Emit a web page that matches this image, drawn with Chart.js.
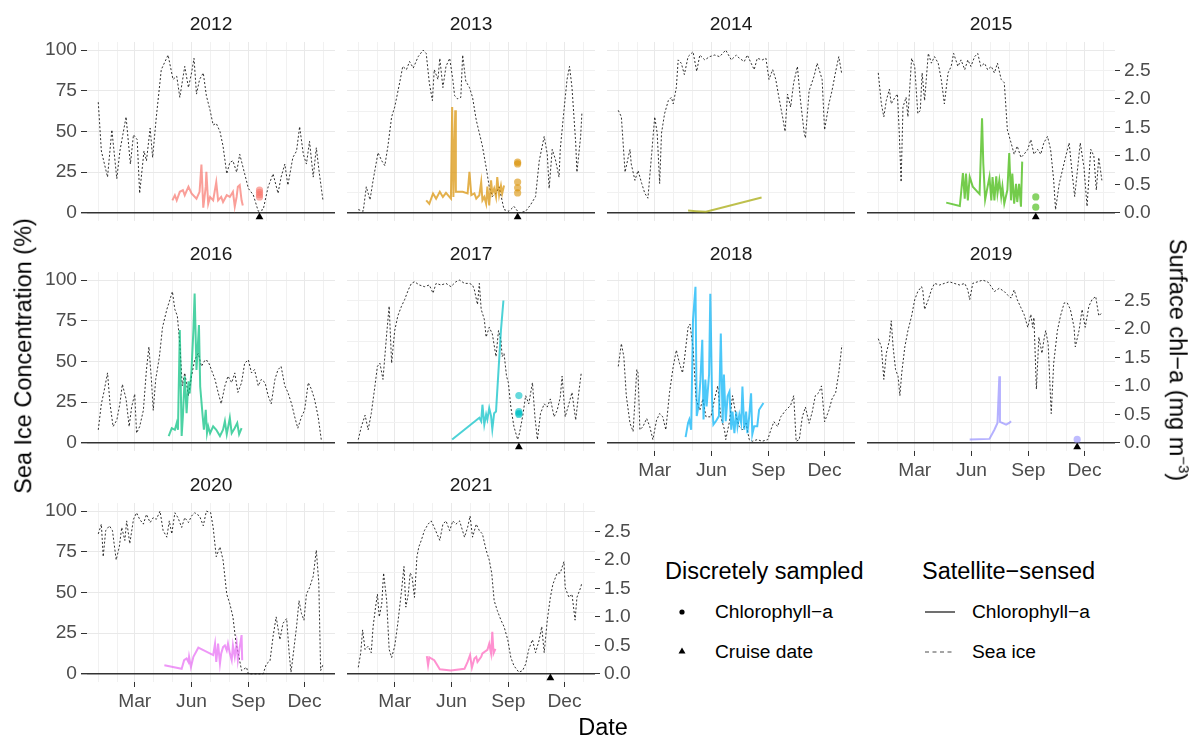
<!DOCTYPE html>
<html>
<head>
<meta charset="utf-8">
<script src="https://cdn.jsdelivr.net/npm/chart.js@4.4.0/dist/chart.umd.min.js"></script>
<style>
  body { margin: 0; background: #fff; font-family: 'Liberation Sans', Arial, sans-serif; }
  #page { position: relative; width: 1193px; height: 737px; overflow: hidden; background: #fff; }
  #page canvas { position: absolute; }
  .txt { position: absolute; white-space: nowrap; line-height: 1; }
  .strip { font-size: 19.2px; color: #1a1a1a; transform: translate(-50%, -50%); }
  .axtitle { font-size: 23.5px; color: #000; }
  .legtitle { font-size: 23.5px; color: #000; transform: translateY(-50%); }
  .legitem { font-size: 19.2px; color: #000; transform: translateY(-50%); }
  svg.key { position: absolute; overflow: visible; }
</style>
</head>
<body>
<div id="page"></div>
<script>
// ---- data (day of year, Jan 1 = 0) ----
const years = [2012, 2013, 2014, 2015, 2016, 2017, 2018, 2019, 2020, 2021];
const yearColors = ['#F8766D', '#D89000', '#A3A500', '#39B600', '#00BF7D',
                    '#00BFC4', '#00B0F6', '#9590FF', '#E76BF3', '#FF62BC'];

const monthStarts = [0, 31, 59, 90, 120, 151, 181, 212, 243, 273, 304, 334, 365];
const monthTickDays = [59, 151, 243, 334];
const monthTickNames = ['Mar', 'Jun', 'Sep', 'Dec'];
const iceGrid = [0, 12.5, 25, 37.5, 50, 62.5, 75, 87.5, 100];
const chlTicks = [0, 0.5, 1, 1.5, 2, 2.5];
const chlScale = 35; // % per mg m-3 on the secondary axis

// sea ice concentration (%)
const ice2012 = [[0,68],[5,38],[15,22],[22,51],[30,21],[35,38],[45,59],[52,30],[57,48],[63,45],[67,12],[74,38],[78,32],[84,52],[88,34],[94,59],[102,88],[113,97],[121,82],[127,84],[132,71],[140,90],[146,77],[151,86],[155,95],[159,73],[164,82],[170,86],[175,72],[181,63],[186,54],[191,55],[197,50],[202,41],[208,24],[213,31],[218,32],[224,25],[229,36],[237,24],[243,15],[251,11],[259,1],[267,2],[275,16],[283,24],[291,12],[296,22],[302,30],[307,17],[315,34],[321,38],[326,53],[332,36],[337,30],[342,44],[348,22],[353,40],[358,24],[364,7]];
const ice2013 = [[0,2],[8,1],[13,16],[19,8],[24,20],[32,37],[38,32],[43,29],[48,41],[54,59],[59,65],[67,80],[72,90],[78,88],[83,93],[89,89],[97,96],[105,100],[110,98],[115,80],[120,69],[123,88],[129,82],[132,95],[137,77],[142,90],[148,95],[153,82],[156,72],[161,70],[166,71],[169,97],[174,81],[180,77],[185,71],[191,57],[196,49],[201,41],[207,28],[212,16],[217,10],[223,12],[228,16],[236,2],[244,1],[252,4],[260,0],[271,1],[279,5],[287,10],[293,32],[301,47],[306,36],[309,15],[314,39],[319,33],[325,22],[327,39],[333,63],[338,82],[342,90],[346,77],[352,43],[354,25],[360,47],[362,61]];
const ice2014 = [[0,63],[5,59],[11,25],[16,34],[19,39],[21,30],[27,20],[32,26],[38,18],[43,12],[48,9],[54,36],[59,59],[63,49],[67,18],[70,49],[75,61],[81,69],[86,71],[89,67],[94,77],[97,94],[102,92],[107,85],[113,96],[121,99],[127,87],[132,97],[140,94],[148,96],[156,97],[164,96],[174,100],[183,94],[191,97],[196,95],[204,93],[209,97],[215,92],[220,88],[225,95],[233,94],[239,95],[244,82],[250,88],[255,82],[260,71],[266,59],[270,50],[274,73],[279,65],[284,80],[290,90],[295,69],[301,49],[303,46],[309,75],[317,84],[322,92],[330,82],[334,51],[341,67],[346,75],[352,87],[357,96],[362,85]];
const ice2015 = [[0,86],[5,67],[9,59],[13,69],[18,76],[21,67],[27,71],[31,73],[34,49],[37,19],[40,65],[45,71],[48,59],[54,95],[59,90],[64,61],[68,63],[71,86],[75,69],[81,98],[86,92],[91,96],[97,92],[102,82],[107,67],[113,86],[118,90],[122,98],[129,90],[134,94],[140,88],[145,94],[150,90],[156,96],[161,98],[166,90],[172,92],[177,88],[183,90],[188,86],[193,92],[199,82],[204,80],[207,63],[209,51],[215,43],[220,36],[225,41],[231,34],[236,36],[242,39],[247,45],[252,36],[258,39],[263,36],[268,43],[274,47],[279,39],[284,20],[287,2],[293,18],[298,26],[303,34],[309,43],[314,24],[318,10],[324,32],[327,43],[333,28],[338,4],[344,39],[349,35],[353,14],[357,34],[362,20]];
const ice2016 = [[0,8],[5,24],[9,31],[15,43],[19,24],[24,10],[30,14],[35,24],[39,36],[45,27],[50,10],[54,22],[59,30],[62,6],[67,10],[73,20],[78,45],[82,59],[86,39],[89,20],[93,39],[99,53],[104,71],[111,82],[116,88],[120,93],[124,82],[128,78],[132,61],[136,35],[140,43],[146,29],[151,41],[156,51],[162,55],[167,47],[173,51],[178,50],[183,45],[189,39],[194,31],[199,24],[205,35],[210,41],[216,37],[221,43],[226,31],[232,37],[237,49],[243,51],[248,43],[253,45],[259,35],[264,39],[270,37],[275,29],[280,24],[286,39],[291,45],[296,47],[302,35],[307,31],[313,24],[318,16],[323,9],[329,16],[334,20],[340,37],[345,33],[350,27],[356,16],[361,2]];
const ice2017 = [[0,2],[5,10],[11,17],[16,8],[21,18],[27,35],[31,47],[35,49],[40,39],[46,67],[50,84],[54,49],[59,69],[64,78],[70,84],[75,88],[81,94],[86,98],[91,99],[99,97],[107,96],[115,97],[121,92],[126,98],[134,97],[142,98],[150,96],[158,99],[164,100],[172,98],[180,98],[185,97],[188,94],[193,85],[196,98],[199,82],[204,76],[207,65],[212,71],[217,67],[223,53],[227,69],[231,63],[233,53],[236,55],[240,41],[243,37],[247,22],[252,10],[258,2],[261,6],[266,16],[271,29],[276,24],[282,37],[286,16],[290,2],[295,18],[301,24],[306,22],[311,27],[317,16],[322,20],[327,28],[330,41],[335,16],[341,24],[346,31],[352,14],[357,31],[361,43]];
const ice2018 = [[0,47],[5,61],[9,53],[13,29],[19,12],[24,7],[30,45],[32,43],[35,8],[40,10],[46,15],[51,10],[56,2],[62,14],[67,18],[72,16],[77,8],[83,31],[89,47],[94,57],[99,49],[104,43],[107,51],[113,71],[116,73],[121,59],[126,27],[132,20],[137,27],[142,16],[150,16],[156,27],[161,35],[166,16],[172,8],[174,2],[180,13],[185,29],[191,16],[196,10],[201,8],[207,12],[212,2],[217,1],[225,2],[233,1],[242,2],[247,8],[252,13],[258,10],[263,16],[271,20],[279,23],[284,29],[288,1],[293,2],[298,16],[303,22],[309,12],[314,19],[319,29],[325,31],[329,35],[334,13],[341,20],[346,27],[352,31],[357,43],[362,60]];
const ice2019 = [[0,64],[5,59],[9,39],[13,55],[18,63],[21,75],[24,59],[28,45],[32,41],[35,29],[38,43],[43,59],[48,69],[54,78],[59,88],[64,93],[70,96],[72,94],[75,82],[81,88],[86,94],[91,98],[99,97],[107,98],[115,99],[123,98],[132,97],[140,98],[145,94],[148,88],[153,98],[161,99],[169,100],[177,99],[183,96],[188,93],[196,95],[204,93],[209,91],[215,89],[220,94],[225,88],[231,83],[236,79],[242,71],[247,79],[250,71],[252,77],[256,33],[260,65],[265,55],[268,63],[271,69],[275,61],[280,18],[284,49],[290,69],[295,78],[301,86],[306,86],[311,82],[317,71],[319,59],[325,69],[330,82],[335,71],[341,84],[346,88],[352,90],[357,78],[362,80]];
const ice2020 = [[0,86],[5,92],[8,72],[12,88],[18,91],[23,88],[29,70],[34,78],[38,90],[43,82],[46,94],[51,80],[57,95],[62,99],[67,95],[73,92],[78,98],[84,93],[89,96],[94,95],[100,100],[105,88],[111,84],[115,94],[119,86],[124,99],[129,96],[135,90],[140,96],[146,93],[151,97],[156,99],[164,97],[170,91],[175,100],[182,99],[186,90],[191,72],[197,78],[202,70],[208,49],[213,43],[218,35],[223,19],[228,10],[232,2],[240,4],[243,0],[256,0],[267,0],[272,6],[278,8],[283,23],[288,35],[294,21],[299,31],[305,34],[309,13],[312,1],[315,10],[321,29],[325,45],[329,37],[333,33],[337,49],[342,53],[348,60],[353,76],[357,56],[360,2],[364,6]];
const ice2021 = [[0,4],[4,13],[7,27],[11,15],[16,17],[21,13],[24,29],[28,41],[31,49],[34,35],[38,43],[41,62],[46,45],[50,15],[54,10],[59,17],[64,31],[70,51],[74,66],[77,41],[81,49],[84,62],[87,60],[91,47],[95,72],[98,78],[102,82],[107,88],[113,92],[118,94],[123,90],[132,82],[137,92],[142,94],[148,88],[153,94],[158,92],[164,94],[172,84],[177,90],[181,97],[185,84],[191,92],[196,88],[201,86],[207,76],[212,70],[216,62],[220,45],[225,39],[231,33],[236,29],[242,21],[247,10],[252,5],[260,1],[266,2],[271,6],[276,15],[282,21],[287,13],[293,21],[297,29],[301,13],[306,33],[311,47],[315,55],[322,62],[327,62],[333,69],[335,53],[341,47],[346,49],[351,33],[354,47],[360,53],[362,56]];

// satellite chlorophyll-a (mg m-3)
const chl2012 = [[120,0.22],[124,0.31],[127,0.22],[132,0.37],[137,0.40],[140,0.31],[146,0.46],[151,0.34],[159,0.25],[164,0.37],[167,0.85],[170,0.09],[174,0.46],[175,0.72],[178,0.16],[181,0.28],[186,0.22],[191,0.54],[194,0.22],[199,0.28],[202,0.19],[208,0.31],[213,0.28],[218,0.37],[221,0.11],[224,0.28],[226,0.46],[229,0.49],[232,0.22],[234,0.13]];
const chl2013 = [[110,0.22],[115,0.16],[121,0.34],[126,0.25],[132,0.37],[137,0.28],[142,0.35],[150,0.25],[152,1.86],[154,0.28],[157,1.80],[158,0.37],[169,0.37],[177,0.34],[180,0.72],[183,0.31],[188,0.34],[191,0.25],[196,0.31],[199,0.54],[201,0.22],[204,0.28],[207,0.16],[209,0.46],[212,0.13],[215,0.57],[217,0.34],[220,0.43],[223,0.28],[225,0.63],[228,0.31],[231,0.48],[233,0.34],[236,0.48]];
const chl2014 = [[113,0.04],[126,0.03],[142,0.02],[232,0.27]];
const chl2015 = [[110,0.18],[132,0.12],[134,0.34],[137,0.70],[140,0.25],[142,0.69],[145,0.22],[148,0.63],[153,0.46],[164,0.33],[168,1.66],[170,0.87],[173,0.23],[177,0.46],[180,0.63],[183,0.22],[185,0.63],[188,0.22],[191,0.64],[193,0.34],[196,0.57],[199,0.28],[201,0.46],[204,0.16],[209,0.40],[212,1.05],[215,0.22],[217,0.69],[220,0.16],[223,0.51],[225,0.19],[228,0.51],[231,0.11],[233,0.90]];
const chl2016 = [[114,0.12],[119,0.26],[124,0.23],[127,0.35],[129,0.23],[132,1.98],[135,0.12],[137,0.47],[140,1.17],[143,0.52],[146,1.08],[148,0.87],[151,1.28],[154,1.98],[156,2.62],[159,1.28],[163,2.07],[165,0.99],[169,0.47],[171,0.23],[174,0.58],[176,0.17],[178,0.29],[181,0.17],[186,0.29],[191,0.23],[197,0.12],[202,0.23],[205,0.38],[208,0.15],[213,0.44],[216,0.17],[221,0.26],[225,0.35],[228,0.15],[232,0.26]];
const chl2017 = [[152,0.06],[196,0.44],[199,0.38],[201,0.67],[204,0.32],[207,0.50],[209,0.41],[212,0.61],[215,0.47],[217,0.24],[220,0.52],[223,0.55],[231,1.98],[235,2.50]];
const chl2018 = [[109,0.10],[113,0.35],[115,0.41],[118,0.23],[121,2.16],[125,2.74],[127,0.47],[130,0.64],[133,1.11],[136,1.81],[138,0.41],[141,1.11],[143,0.64],[147,1.20],[149,2.62],[152,0.70],[154,0.32],[158,0.38],[163,0.47],[166,1.92],[169,0.35],[171,1.20],[174,0.38],[177,0.82],[180,0.90],[183,0.23],[185,0.55],[188,0.17],[191,0.55],[193,0.29],[196,0.50],[199,0.35],[201,0.99],[204,0.23],[207,0.55],[209,0.17],[212,0.47],[215,0.87],[217,0.15],[220,0.29],[225,0.29],[228,0.58],[235,0.70]];
const chl2019 = [[148,0.06],[180,0.07],[188,0.23],[193,0.35],[196,1.17],[197,0.37],[207,0.32],[212,0.35],[215,0.38]];
const chl2020 = [[107,0.15],[135,0.09],[139,0.24],[143,0.27],[146,0.21],[147,0.30],[150,0.12],[154,0.30],[162,0.46],[186,0.33],[189,0.53],[191,0.21],[194,0.53],[197,0.18],[199,0.36],[202,0.47],[205,0.50],[208,0.41],[210,0.53],[213,0.36],[216,0.24],[218,0.50],[221,0.30],[224,0.53],[226,0.24],[229,0.47],[232,0.68],[233,0.24]];
const chl2021 = [[111,0.31],[113,0.15],[115,0.29],[123,0.24],[132,0.08],[150,0.06],[172,0.09],[177,0.21],[181,0.33],[184,0.11],[188,0.27],[191,0.30],[193,0.21],[199,0.30],[201,0.36],[209,0.42],[212,0.53],[215,0.36],[217,0.74],[219,0.36],[222,0.44]];

// discretely sampled chlorophyll-a (mg m-3) and cruise dates
const samples2012 = [[261,0.28],[261,0.32],[261,0.36],[261,0.40]];
const samples2013 = [[258,0.89],[258,0.86],[258,0.54],[258,0.44],[258,0.35]];
const samples2015 = [[255,0.28],[255,0.10]];
const samples2017 = [[260,0.83],[260,0.55],[260,0.52],[260,0.50]];
const samples2019 = [[322,0.06]];
const cruiseDays = [261, 258, null, 255, null, 260, null, 322, null, 311];

const iceSeries = [ice2012, ice2013, ice2014, ice2015, ice2016, ice2017, ice2018, ice2019, ice2020, ice2021];
const chlSeries = [chl2012, chl2013, chl2014, chl2015, chl2016, chl2017, chl2018, chl2019, chl2020, chl2021];
const sampleSeries = [samples2012, samples2013, [], samples2015, [], samples2017, [], samples2019, [], []];

// ---- layout ----
const PW = 248, PH = 179;           // plot area of one panel
const ML = 70, MR = 70, MT = 16, MB = 46;
const colLeft = [87, 347, 607, 867];
const rowTop = [42, 272, 503];
const page = document.getElementById('page');

Chart.defaults.font.family = "'Liberation Sans', Arial, sans-serif";

function hexA(hex, a) {
  const n = parseInt(hex.slice(1), 16);
  return 'rgba(' + (n >> 16 & 255) + ',' + (n >> 8 & 255) + ',' + (n & 255) + ',' + a + ')';
}
function toXY(arr) { return arr.map(p => ({x: p[0], y: p[1]})); }

function addText(cls, html, left, top, extra) {
  const d = document.createElement('div');
  d.className = 'txt ' + cls;
  d.innerHTML = html;
  d.style.left = left + 'px';
  d.style.top = top + 'px';
  if (extra) Object.assign(d.style, extra);
  page.appendChild(d);
  return d;
}

function makePanel(i) {
  const col = i % 4, row = Math.floor(i / 4);
  const left = colLeft[col], top = rowTop[row];
  const showLeft = col === 0;
  const showRight = col === 3 || i === 9;
  const showBottom = row === 2 || i === 6 || i === 7;
  const color = yearColors[i];

  const cv = document.createElement('canvas');
  cv.width = PW + ML + MR;
  cv.height = PH + MT + MB;
  cv.style.left = (left - ML) + 'px';
  cv.style.top = (top - MT) + 'px';
  page.appendChild(cv);

  addText('strip', String(years[i]), left + PW / 2, top - 18);

  const datasets = [];
  if (cruiseDays[i] !== null) {
    datasets.push({type: 'scatter', data: [{x: cruiseDays[i], y: -2.5}], yAxisID: 'y',
      pointStyle: 'triangle', pointRadius: 4.5, backgroundColor: '#000', borderColor: '#000', borderWidth: 0});
  }
  if (sampleSeries[i].length) {
    datasets.push({type: 'scatter', data: toXY(sampleSeries[i]), yAxisID: 'y2',
      pointRadius: 3.6, backgroundColor: hexA(color, 0.6), borderWidth: 0});
  }
  datasets.push({type: 'line', data: toXY(chlSeries[i]), yAxisID: 'y2',
    borderColor: hexA(color, 0.7), borderWidth: 2, pointRadius: 0, tension: 0});
  datasets.push({type: 'line', data: toXY(iceSeries[i]), yAxisID: 'y',
    borderColor: '#1a1a1a', borderWidth: 0.9, borderDash: [2, 2], pointRadius: 0, tension: 0});

  new Chart(cv, {
    type: 'line',
    data: {datasets},
    options: {
      responsive: false, animation: false, devicePixelRatio: 1, events: [],
      layout: {padding: {top: MT, left: 0, right: 0, bottom: 0}},
      plugins: {legend: {display: false}, tooltip: {enabled: false}},
      scales: {
        x: {
          type: 'linear', min: -18.25, max: 383.25,
          afterBuildTicks: s => { s.ticks = monthStarts.map(v => ({value: v})); },
          afterFit: s => { s.height = MB; },
          border: {display: false},
          grid: {
            color: c => monthTickDays.includes(c.tick.value) ? '#e9e9e9' : '#f1f1f1',
            lineWidth: 1,
            tickLength: 5,
            tickColor: c => (showBottom && monthTickDays.includes(c.tick.value)) ? '#333' : 'rgba(0,0,0,0)'
          },
          ticks: {
            display: showBottom, autoSkip: false, maxRotation: 0, padding: 3,
            color: '#4d4d4d', font: {size: 19.2},
            callback: v => { const k = monthTickDays.indexOf(v); return k >= 0 ? monthTickNames[k] : ''; }
          }
        },
        y: {
          position: 'left', min: -5, max: 105,
          afterBuildTicks: s => { s.ticks = iceGrid.map(v => ({value: v})); },
          afterFit: s => { s.width = ML; },
          border: {display: false},
          grid: {
            color: c => c.tick.value === 0 ? '#333' : (c.tick.value % 25 === 0 ? '#e9e9e9' : '#f1f1f1'),
            lineWidth: c => c.tick.value === 0 ? 1.4 : 1,
            tickLength: 6,
            tickColor: c => (showLeft && c.tick.value % 25 === 0) ? '#333' : 'rgba(0,0,0,0)'
          },
          ticks: {
            display: showLeft, padding: 4, color: '#4d4d4d', font: {size: 19.2},
            callback: v => v % 25 === 0 ? String(v) : ''
          }
        },
        y2: {
          position: 'right', min: -5 / chlScale, max: 105 / chlScale,
          afterBuildTicks: s => { s.ticks = chlTicks.map(v => ({value: v})); },
          afterFit: s => { s.width = MR; },
          border: {display: false},
          grid: {
            drawOnChartArea: false, tickLength: 5,
            tickColor: showRight ? '#333' : 'rgba(0,0,0,0)'
          },
          ticks: {
            display: showRight, padding: 4, color: '#4d4d4d', font: {size: 19.2},
            callback: v => v.toFixed(1)
          }
        }
      }
    }
  });
}

for (let i = 0; i < years.length; i++) makePanel(i);

// axis titles
addText('axtitle', 'Sea Ice Concentration (%)', 24, 356, {transform: 'translate(-50%, -50%) rotate(-90deg)'});
addText('axtitle', 'Surface chl\u2212a (mg m<sup style="font-size:15px;vertical-align:9px;line-height:0">\u22123</sup>)', 1177, 360,
  {transform: 'translate(-50%, -50%) rotate(90deg)'});
addText('axtitle', 'Date', 603, 728, {transform: 'translate(-50%, -50%)'});

// legends
addText('legtitle', 'Discretely sampled', 665, 572);
addText('legitem', 'Chlorophyll\u2212a', 715, 612);
addText('legitem', 'Cruise date', 715, 652);
addText('legtitle', 'Satellite\u2212sensed', 922, 572);
addText('legitem', 'Chlorophyll\u2212a', 972, 612);
addText('legitem', 'Sea ice', 972, 652);

function addKey(svgInner, left, top, w, h) {
  const ns = 'http://www.w3.org/2000/svg';
  const s = document.createElementNS(ns, 'svg');
  s.setAttribute('class', 'key');
  s.setAttribute('width', w); s.setAttribute('height', h);
  s.style.left = left + 'px'; s.style.top = top + 'px';
  s.innerHTML = svgInner;
  page.appendChild(s);
}
addKey('<circle cx="5" cy="5" r="2.6" fill="#000"/>', 677, 607, 10, 10);
addKey('<polygon points="5,1.5 8.5,7.5 1.5,7.5" fill="#000"/>', 677, 646, 10, 10);
addKey('<line x1="0" y1="5" x2="30" y2="5" stroke="#4d4d4d" stroke-width="1.6"/>', 925, 607, 30, 10);
addKey('<line x1="0" y1="5" x2="30" y2="5" stroke="#4d4d4d" stroke-width="1.2" stroke-dasharray="4,3.5"/>', 925, 647, 30, 10);
</script>
</body>
</html>
